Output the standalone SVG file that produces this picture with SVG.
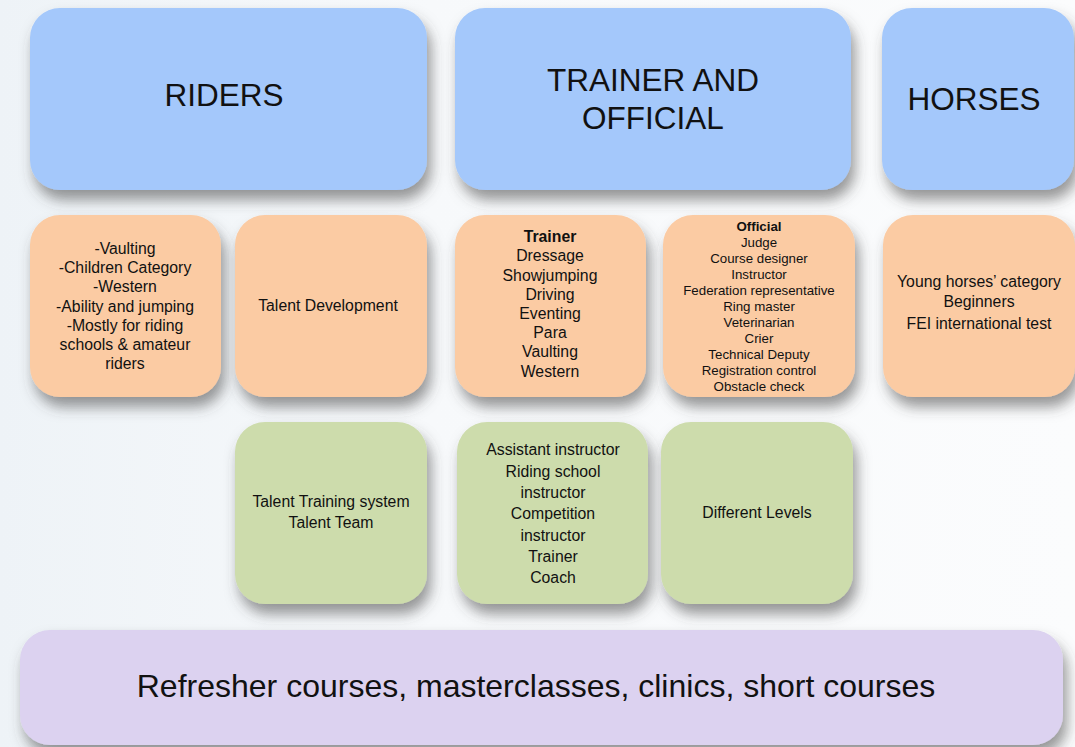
<svg xmlns="http://www.w3.org/2000/svg" width="1075" height="747" viewBox="0 0 1075 747">
<defs>
<filter id="sh" x="-20%" y="-20%" width="150%" height="150%">
<feDropShadow dx="4" dy="10" stdDeviation="7" flood-color="#444" flood-opacity="0.55"/>
</filter>
<linearGradient id="bg" x1="0" y1="0" x2="1" y2="0">
<stop offset="0" stop-color="#eef3f7"/>
<stop offset="0.4" stop-color="#f7f9fb"/>
<stop offset="1" stop-color="#fbfcfd"/>
</linearGradient>
</defs>
<style>
.b{fill:#a4c8fb}
.o{fill:#fbcba3}
.g{fill:#cddcac}
.p{fill:#dcd2f0}
rect{filter:url(#sh)}
text{font-family:"Liberation Sans",Arial,sans-serif;fill:#111;text-anchor:middle}
.big{font-size:31.5px}
.m{font-size:15.8px}
.s{font-size:13.3px}
.bold{font-weight:bold}
</style>
<rect x="0" y="0" width="1075" height="747" fill="url(#bg)" style="filter:none"/>
<g id="riders"><rect class="b" x="30" y="8" width="397" height="182" rx="30"/><text class="big" x="224" y="106">RIDERS</text></g>
<g id="trainer-official"><rect class="b" x="455" y="8" width="396" height="182" rx="30"/><text class="big" x="653" y="91">TRAINER AND</text><text class="big" x="653" y="129">OFFICIAL</text></g>
<g id="horses"><rect class="b" x="882" y="8" width="192" height="182" rx="30"/><text class="big" x="974" y="110">HORSES</text></g>

<g id="riders-categories"><rect class="o" x="30" y="215" width="191" height="182" rx="30"/>
<text class="m" x="125"><tspan x="125" y="253.5">-Vaulting</tspan><tspan x="125" y="272.5">-Children Category</tspan><tspan x="125" y="291.5">-Western</tspan><tspan x="125" y="311.5">-Ability and jumping</tspan><tspan x="125" y="330.5">-Mostly for riding</tspan><tspan x="125" y="349.5">schools &amp; amateur</tspan><tspan x="125" y="368.5">riders</tspan></text></g>
<g id="talent-development"><rect class="o" x="235" y="215" width="192" height="182" rx="30"/><text class="m" x="328" y="310.5">Talent Development</text></g>
<g id="trainer"><rect class="o" x="455" y="215" width="191" height="182" rx="30"/>
<text class="m" x="550"><tspan class="bold" x="550" y="241.5">Trainer</tspan><tspan x="550" y="260.5">Dressage</tspan><tspan x="550" y="280.5">Showjumping</tspan><tspan x="550" y="299.5">Driving</tspan><tspan x="550" y="318.5">Eventing</tspan><tspan x="550" y="337.5">Para</tspan><tspan x="550" y="356.5">Vaulting</tspan><tspan x="550" y="376.5">Western</tspan></text></g>
<g id="official"><rect class="o" x="663" y="215" width="192" height="182" rx="30"/>
<text class="s" x="759"><tspan class="bold" x="759" y="230.5">Official</tspan><tspan x="759" y="246.5">Judge</tspan><tspan x="759" y="262.5">Course designer</tspan><tspan x="759" y="278.5">Instructor</tspan><tspan x="759" y="294.5">Federation representative</tspan><tspan x="759" y="310.5">Ring master</tspan><tspan x="759" y="326.5">Veterinarian</tspan><tspan x="759" y="342.5">Crier</tspan><tspan x="759" y="358.5">Technical Deputy</tspan><tspan x="759" y="374.5">Registration control</tspan><tspan x="759" y="390.5">Obstacle check</tspan></text></g>
<g id="horse-categories"><rect class="o" x="883" y="215" width="192" height="182" rx="30"/>
<text class="m" x="979"><tspan x="979" y="286.5">Young horses’ category</tspan><tspan x="979" y="307">Beginners</tspan><tspan x="979" y="328.5">FEI international test</tspan></text></g>

<g id="talent-training"><rect class="g" x="235" y="422" width="192" height="182" rx="30"/>
<text class="m" x="331"><tspan x="331" y="506.5">Talent Training system</tspan><tspan x="331" y="527.5">Talent Team</tspan></text></g>
<g id="instructor-levels"><rect class="g" x="457" y="422" width="191" height="182" rx="30"/>
<text class="m" x="553"><tspan x="553" y="454.5">Assistant instructor</tspan><tspan x="553" y="476.5">Riding school</tspan><tspan x="553" y="497.5">instructor</tspan><tspan x="553" y="518.5">Competition</tspan><tspan x="553" y="540.5">instructor</tspan><tspan x="553" y="561.5">Trainer</tspan><tspan x="553" y="582.5">Coach</tspan></text></g>
<g id="different-levels"><rect class="g" x="661" y="422" width="192" height="182" rx="30"/><text class="m" x="757" y="517.5">Different Levels</text></g>

<g id="refresher"><rect class="p" x="20" y="630" width="1043" height="115" rx="30"/><text x="536" y="697" style="font-size:32px">Refresher courses, masterclasses, clinics, short courses</text></g>
<g id="connectors"/>
</svg>
